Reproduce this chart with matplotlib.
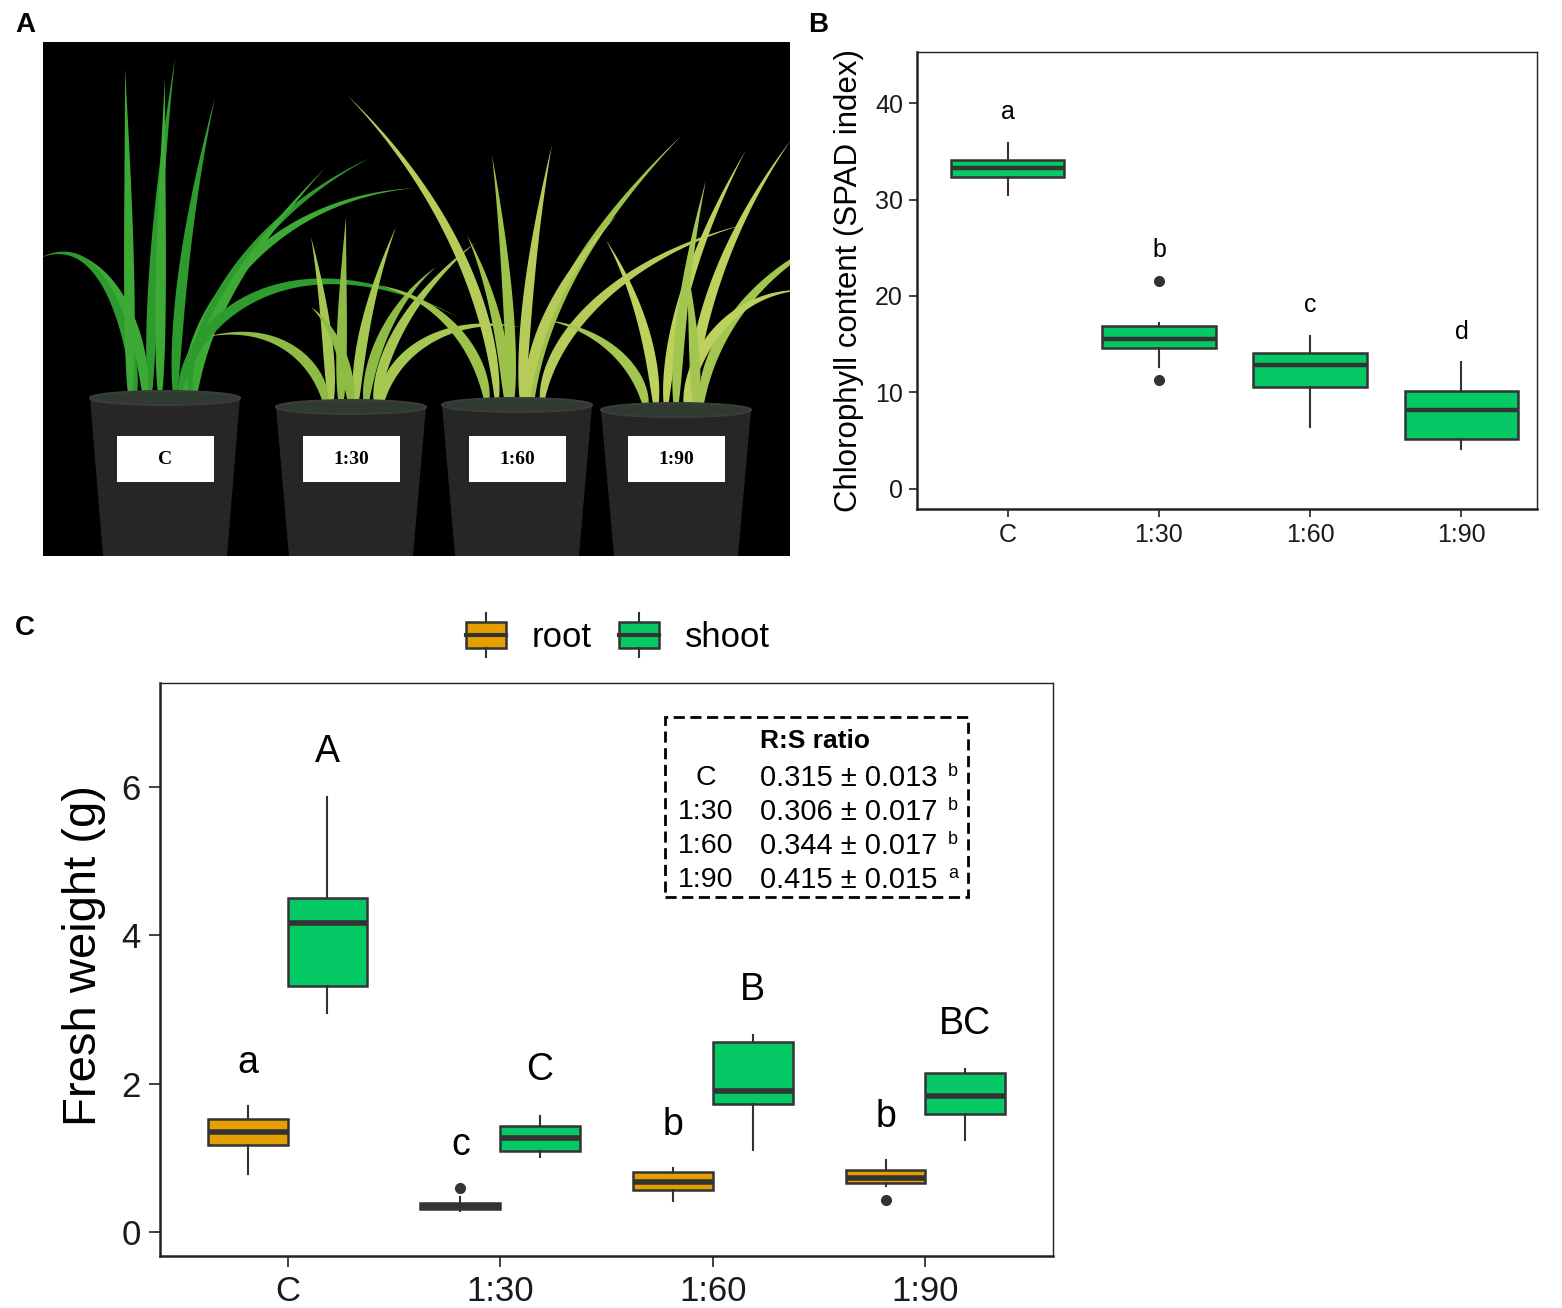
import numpy as np
import matplotlib
matplotlib.use("Agg")
import matplotlib.pyplot as plt
from matplotlib.patches import Rectangle, Polygon, Patch, Ellipse
from matplotlib.lines import Line2D
from matplotlib.legend_handler import HandlerBase

plt.rcParams['font.family'] = ['Liberation Sans', 'DejaVu Sans']

W, H = 1562, 1308
GREEN = '#05C965'
ORANGE = '#E69F00'
EDGE = '#333333'

groups = ['C', '1:30', '1:60', '1:90']

# panel B: chlorophyll (SPAD) box stats
spad_whislo = [30.5, 12.6, 6.4, 4.1]
spad_q1 = [32.3, 14.6, 10.6, 5.2]
spad_med = [33.3, 15.5, 12.8, 8.2]
spad_q3 = [34.1, 16.85, 14.1, 10.1]
spad_whishi = [35.85, 17.2, 15.8, 13.1]
spad_fliers = [[], [21.6, 11.3], [], []]
spad_letters = ['a', 'b', 'c', 'd']
spad_letter_y = [39.1, 24.8, 19.1, 16.3]

# panel C: fresh weight box stats
root_whislo = [0.79, 0.28, 0.42, 0.62]
root_q1 = [1.17, 0.31, 0.57, 0.67]
root_med = [1.35, 0.36, 0.68, 0.73]
root_q3 = [1.52, 0.40, 0.81, 0.84]
root_whishi = [1.70, 0.48, 0.86, 0.97]
root_fliers = [[], [0.60], [], [0.44]]
root_letters = ['a', 'c', 'b', 'b']
root_letter_y = [2.28, 1.18, 1.45, 1.55]

shoot_whislo = [2.95, 1.02, 1.11, 1.24]
shoot_q1 = [3.32, 1.09, 1.73, 1.59]
shoot_med = [4.16, 1.27, 1.90, 1.84]
shoot_q3 = [4.50, 1.43, 2.56, 2.14]
shoot_whishi = [5.87, 1.56, 2.66, 2.20]
shoot_fliers = [[], [], [], []]
shoot_letters = ['A', 'C', 'B', 'BC']
shoot_letter_y = [6.47, 2.18, 3.26, 2.81]

rs_mean = ['0.315', '0.306', '0.344', '0.415']
rs_se = ['0.013', '0.017', '0.017', '0.015']
rs_letters = ['b', 'b', 'b', 'a']

# panel A: stylised photo (pot centre, rim, leaves as base dx, height, reach, droop)
pot_x = [122, 308, 474, 633]
pot_rim = [356, 365, 363, 368]
leaf_colors = [('#2E9B2E', '#3DAA35'), ('#A6C752', '#8DBB45'),
               ('#B5CD58', '#9CC24A'), ('#BCD25C', '#A3C650')]
plants = [
    [(-30, 250, -95, 110), (-35, 330, -5, 0), (-15, 340, 25, 0), (-5, 320, 5, 0),
     (10, 300, 40, 0), (20, 300, 230, 90), (25, 280, 180, 40), (30, 220, 130, -10),
     (15, 250, 280, 170), (-20, 180, -60, 40)],
    [(-20, 170, -20, 0), (-10, 190, 5, 0), (5, 180, 40, 0), (15, 160, 70, 20),
     (25, 175, 100, 10), (-25, 130, -120, 60), (30, 140, 140, 60), (0, 120, -40, 20)],
    [(-20, 330, -150, 20), (-5, 250, -20, 0), (5, 260, 30, 0), (15, 270, 150, 0),
     (25, 220, 200, 40), (-30, 160, -110, 40), (10, 200, 90, 10), (-10, 180, -40, 10)],
    [(-10, 260, 80, 0), (0, 230, 30, 0), (15, 280, 100, 10), (25, 220, 150, 40),
     (-20, 180, -50, 10), (-30, 120, -100, 30), (10, 180, 120, 60), (20, 150, -10, 0)],
]


def px_axes(x0, y0, x1, y1):
    return fig.add_axes([x0 / W, 1 - y1 / H, (x1 - x0) / W, (y1 - y0) / H])


def stats(lo, q1, med, q3, hi, fl):
    return [dict(whislo=a, q1=b, med=c, q3=d, whishi=e, fliers=f)
            for a, b, c, d, e, f in zip(lo, q1, med, q3, hi, fl)]


def draw_box(ax, st, pos, width, color, medlw):
    ax.bxp(st, positions=pos, widths=width, patch_artist=True, showcaps=False,
           boxprops=dict(facecolor=color, edgecolor=EDGE, linewidth=1.8),
           medianprops=dict(color=EDGE, linewidth=medlw),
           whiskerprops=dict(color=EDGE, linewidth=1.5),
           flierprops=dict(marker='o', markerfacecolor=EDGE, markeredgecolor=EDGE,
                           markersize=7))


def style_axes(ax, fs, ticklen, pad):
    for s in ['left', 'bottom']:
        ax.spines[s].set_linewidth(1.8)
    for s in ['top', 'right']:
        ax.spines[s].set_linewidth(1.0)
    for s in ax.spines.values():
        s.set_color('#222222')
    ax.tick_params(labelsize=fs, length=ticklen, width=1.3, color='#333333',
                   labelcolor='#1a1a1a', pad=pad)


fig = plt.figure(figsize=(W / 100, H / 100), dpi=100)

# ---------------- panel A ----------------
axA = px_axes(43, 42, 790, 556)
axA.set_xlim(0, 747)
axA.set_ylim(514, 0)
axA.set_facecolor('black')
axA.set_xticks([])
axA.set_yticks([])
for s in axA.spines.values():
    s.set_visible(False)

t = np.linspace(0, 1, 50)
for cx, rim, leaves, cols in zip(pot_x, pot_rim, plants, leaf_colors):
    for k, (bdx, ht, reach, droop) in enumerate(leaves):
        xs = cx + bdx + reach * t ** 1.8
        ys = rim - ht * t + droop * t ** 3
        dx = np.gradient(xs)
        dy = np.gradient(ys)
        n = np.hypot(dx, dy)
        wdt = 4.5 * np.sin(np.pi * t ** 0.6) + 1.0 * (1 - t)
        nx, ny = -dy / n * wdt, dx / n * wdt
        pts = np.concatenate([np.c_[xs + nx, ys + ny], np.c_[xs - nx, ys - ny][::-1]])
        axA.add_patch(Polygon(pts, closed=True, facecolor=cols[k % 2], edgecolor='none'))
    axA.add_patch(Polygon([(cx - 75, rim), (cx + 75, rim), (cx + 62, 514), (cx - 62, 514)],
                          closed=True, facecolor='#262626', edgecolor='none'))
    axA.add_patch(Ellipse((cx, rim), 150, 14, facecolor='#2f3a30', edgecolor='#3c3c3c', lw=1.5))
    axA.add_patch(Rectangle((cx - 48, 394), 97, 46, facecolor='white', edgecolor='none'))

for cx, g in zip(pot_x, groups):
    axA.text(cx, 417, g, ha='center', va='center', fontsize=14, fontweight='bold',
             family='Liberation Serif')

# ---------------- panel B ----------------
axB = px_axes(917, 52, 1537, 509)
draw_box(axB, stats(spad_whislo, spad_q1, spad_med, spad_q3, spad_whishi, spad_fliers),
         [1, 2, 3, 4], 0.75, GREEN, 3.2)
for i, (lab, y) in enumerate(zip(spad_letters, spad_letter_y)):
    axB.text(i + 1, y, lab, ha='center', va='center', fontsize=18)
axB.set_xlim(0.4, 4.5)
axB.set_ylim(-2.1, 45.3)
axB.set_yticks([0, 10, 20, 30, 40])
axB.set_xticks([1, 2, 3, 4])
axB.set_xticklabels(groups)
style_axes(axB, 18, 6, 4)
axB.set_ylabel('Chlorophyll content (SPAD index)', fontsize=22.5, labelpad=8)

# ---------------- panel C ----------------
axC = px_axes(160, 683, 1053, 1256)
pos = np.arange(1, 5)
draw_box(axC, stats(root_whislo, root_q1, root_med, root_q3, root_whishi, root_fliers),
         pos - 0.1875, 0.375, ORANGE, 4)
draw_box(axC, stats(shoot_whislo, shoot_q1, shoot_med, shoot_q3, shoot_whishi, shoot_fliers),
         pos + 0.1875, 0.375, GREEN, 4)
for i in range(4):
    axC.text(pos[i] - 0.1875, root_letter_y[i], root_letters[i], ha='center', va='center',
             fontsize=27)
    axC.text(pos[i] + 0.1875, shoot_letter_y[i], shoot_letters[i], ha='center', va='center',
             fontsize=27)
axC.set_xlim(0.4, 4.6)
axC.set_ylim(-0.32, 7.40)
axC.set_yticks([0, 2, 4, 6])
axC.set_xticks(pos)
axC.set_xticklabels(groups)
style_axes(axC, 25, 8, 6)
axC.set_ylabel('Fresh weight (g)', fontsize=34)
axC.yaxis.set_label_coords(-0.061, 0.525)

# R:S ratio table
axC.add_patch(Rectangle((0.5655, 0.6265), 0.3395, 0.3142, transform=axC.transAxes,
                        fill=False, edgecolor='black', lw=2, linestyle=(0, (4, 2))))
axC.text(0.7335, 0.8988, 'R:S ratio', transform=axC.transAxes, ha='center', va='center',
         fontsize=19, fontweight='bold')
row_y = [0.834, 0.775, 0.715, 0.656]
for g, m, se, lt, y in zip(groups, rs_mean, rs_se, rs_letters, row_y):
    axC.text(0.6114, y, g, transform=axC.transAxes, ha='center', va='center', fontsize=20.5)
    axC.text(0.6719, y, f'{m} \u00b1 {se}', transform=axC.transAxes, ha='left',
             va='center', fontsize=21)
    axC.text(0.8824, y + 0.012, lt, transform=axC.transAxes, ha='left', va='center',
             fontsize=13)


class BoxGlyph(HandlerBase):
    def create_artists(self, legend, orig, xd, yd, w, h, fs, trans):
        x0, y0 = -xd, -yd
        cx = x0 + w / 2
        rect = Rectangle((x0, y0 + 0.1 * h), w, 0.8 * h, facecolor=orig.get_facecolor(),
                         edgecolor=EDGE, lw=1.8, transform=trans)
        med = Line2D([x0, x0 + w], [y0 + h / 2] * 2, color=EDGE, lw=3, transform=trans)
        top = Line2D([cx, cx], [y0 + 0.9 * h, y0 + 1.15 * h], color=EDGE, lw=1.5,
                     transform=trans)
        bot = Line2D([cx, cx], [y0 - 0.15 * h, y0 + 0.1 * h], color=EDGE, lw=1.5,
                     transform=trans)
        return [rect, med, top, bot]


fig.legend(handles=[Patch(facecolor=ORANGE), Patch(facecolor=GREEN)],
           labels=['root', 'shoot'], loc='center', bbox_to_anchor=(618 / W, 1 - 636 / H),
           ncol=2, frameon=False, fontsize=25, handler_map={Patch: BoxGlyph()},
           handlelength=1.15, handleheight=1.1, columnspacing=0.8, handletextpad=0.75)

# panel letters
for lab, x, y in [('A', 25, 25), ('B', 818, 25), ('C', 25, 628)]:
    fig.text(x / W, 1 - y / H, lab, ha='center', va='center', fontsize=20, fontweight='bold')

fig.savefig('out.png', dpi=100, facecolor='white')
